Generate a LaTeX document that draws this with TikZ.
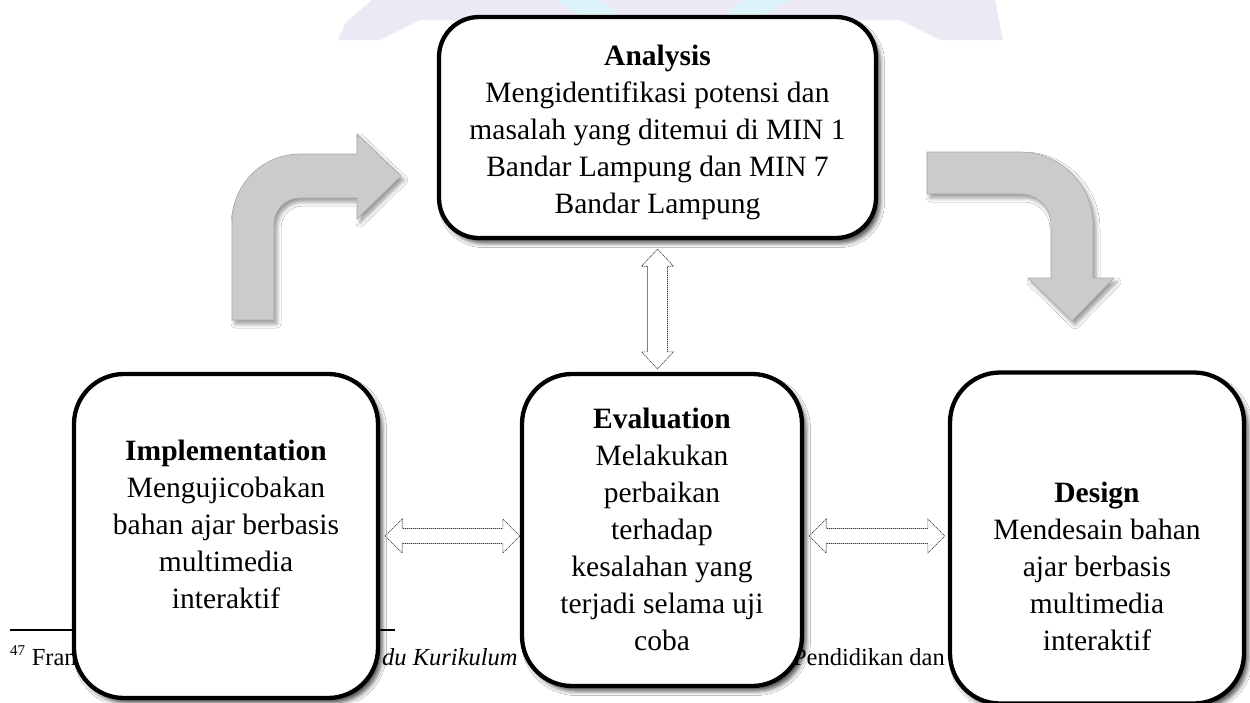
\documentclass[tikz,border=0pt]{standalone}
\usepackage{fontspec}
\setmainfont{Liberation Serif}
\usetikzlibrary{calc,shadows.blur}
\definecolor{arrowfill}{HTML}{CBCBCB}
\definecolor{arrowedge}{HTML}{A8A8A8}
\definecolor{wmlav}{HTML}{ECE8F4}
\definecolor{wmcyan}{HTML}{DDF3FA}
\begin{document}
\begin{tikzpicture}[x=1pt,y=-1pt,
  box/.style={draw=black, line width=4.3pt, fill=white, rounded corners=#1,
    blur shadow={shadow xshift=4pt, shadow yshift=-5pt, shadow blur radius=4.5pt, shadow opacity=70}},
  box/.default=50pt,
  body/.style={font=\fontsize{29.5}{37}\selectfont, align=center, anchor=north, inner sep=0pt},
  foot/.style={font=\fontsize{24.5}{28}\selectfont, inner sep=0pt},
  bentarrow/.style={fill=arrowfill, draw=arrowedge, line width=0.6pt,
    blur shadow={shadow xshift=3pt, shadow yshift=-4pt, shadow blur radius=4pt, shadow opacity=40}},
  hollow/.style={draw=black!75, line width=0.7pt, dash pattern=on 1.2pt off 0.8pt, fill=white}
]
\useasboundingbox (0,0) rectangle (1250,702);
\fill[white] (0,0) rectangle (1250,702);

% faint watermark
\fill[wmlav] (338,40) -- (346,22) -- (372,0) -- (995,0) -- (1003,40) -- (940,40) -- (900,20) -- (420,20) -- (380,40) -- cycle;
\fill[wmcyan] (555,0) -- (600,0) -- (640,30) -- (612,34) -- cycle;
\fill[wmcyan] (790,0) -- (745,0) -- (705,30) -- (733,34) -- cycle;

% footnote
\draw[line width=1.2pt] (10,630) coordinate (fnl) -- (395,630) coordinate (fnr);
\node[foot, anchor=base west] (fn1) at (10,665) {\textsuperscript{\fontsize{15}{15}\selectfont 47} Fran};
\node[foot, anchor=base west] (fn2) at (382,665) {\textit{du Kurikulum}};
\node[foot, anchor=base east] (fn3) at (945,665) {Pendidikan dan};

% bent grey arrows
\path[bentarrow] (232,320) -- (232,222) .. controls (232,184.4) and (262.4,154) .. (300,154)
  -- (357,154) -- (357,134) -- (401,176) -- (357,219) -- (357,198) -- (300,198)
  .. controls (285.6,198) and (274,209.6) .. (274,224) -- (274,320) -- cycle;
\path[bentarrow] (927,152) -- (1020,152) .. controls (1060.3,152) and (1093,184.7) .. (1093,225)
  -- (1093,278) -- (1114,278) -- (1072,321) -- (1028,278) -- (1051,278) -- (1051,225)
  .. controls (1051,207.9) and (1037.9,194) .. (1020,194) -- (927,194) -- cycle;

% boxes
\node[box=40pt, minimum width=437pt, minimum height=221pt] (analysis) at (657.5,127.5) {};
\node[box, minimum width=304pt, minimum height=324pt] (implementation) at (226,536) {};
\node[box, minimum width=280pt, minimum height=312pt] (evaluation) at (662,530) {};
\node[box, minimum width=294pt, minimum height=331pt] (design) at (1097,538) {};

% texts
\node[body] (analysisText) at (657.5,45) {\textbf{Analysis}\\Mengidentifikasi potensi dan\\masalah yang ditemui di MIN 1\\Bandar Lampung dan MIN 7\\Bandar Lampung};
\node[body] (implementationText) at (226,440) {\textbf{Implementation}\\Mengujicobakan\\bahan ajar berbasis\\multimedia\\interaktif};
\node[body] (evaluationText) at (662,408) {\textbf{Evaluation}\\Melakukan\\perbaikan\\terhadap\\kesalahan yang\\terjadi selama uji\\coba};
\node[body] (designText) at (1097,482) {\textbf{Design}\\Mendesain bahan\\ajar berbasis\\multimedia\\interaktif};

% hollow double arrows
\coordinate (vT) at ($(analysis.south)+(0,9)$);
\coordinate (vB) at ($(evaluation.north)+(0,-3)$);
\path[hollow] let \p1=(vT), \p2=(vB) in
  (\x1,\y1) -- (\x1+16pt,\y1-17pt) -- (\x1+10pt,\y1-17pt) -- (\x1+10pt,\y2+17pt) -- (\x1+16pt,\y2+17pt)
  -- (\x1,\y2) -- (\x1-16pt,\y2+17pt) -- (\x1-10pt,\y2+17pt) -- (\x1-10pt,\y1-17pt) -- (\x1-16pt,\y1-17pt) -- cycle;

\coordinate (hL1) at ($(implementation.east)+(5,0)$);
\coordinate (hL2) at (evaluation.west);
\path[hollow] let \p1=(hL1), \p2=(hL2) in
  (\x1,\y1) -- (\x1+17pt,\y1+17pt) -- (\x1+17pt,\y1+7.5pt) -- (\x2-17pt,\y1+7.5pt) -- (\x2-17pt,\y1+17pt)
  -- (\x2,\y1) -- (\x2-17pt,\y1-17pt) -- (\x2-17pt,\y1-7.5pt) -- (\x1+17pt,\y1-7.5pt) -- (\x1+17pt,\y1-17pt) -- cycle;

\coordinate (hR1) at ($(evaluation.east)+(5,6)$);
\coordinate (hR2) at ($(design.west)+(-3,0)$);
\path[hollow] let \p1=(hR1), \p2=(hR2) in
  (\x1,\y1) -- (\x1+17pt,\y1+17pt) -- (\x1+17pt,\y1+7.5pt) -- (\x2-17pt,\y1+7.5pt) -- (\x2-17pt,\y1+17pt)
  -- (\x2,\y1) -- (\x2-17pt,\y1-17pt) -- (\x2-17pt,\y1-7.5pt) -- (\x1+17pt,\y1-7.5pt) -- (\x1+17pt,\y1-17pt) -- cycle;
\end{tikzpicture}
\end{document}
